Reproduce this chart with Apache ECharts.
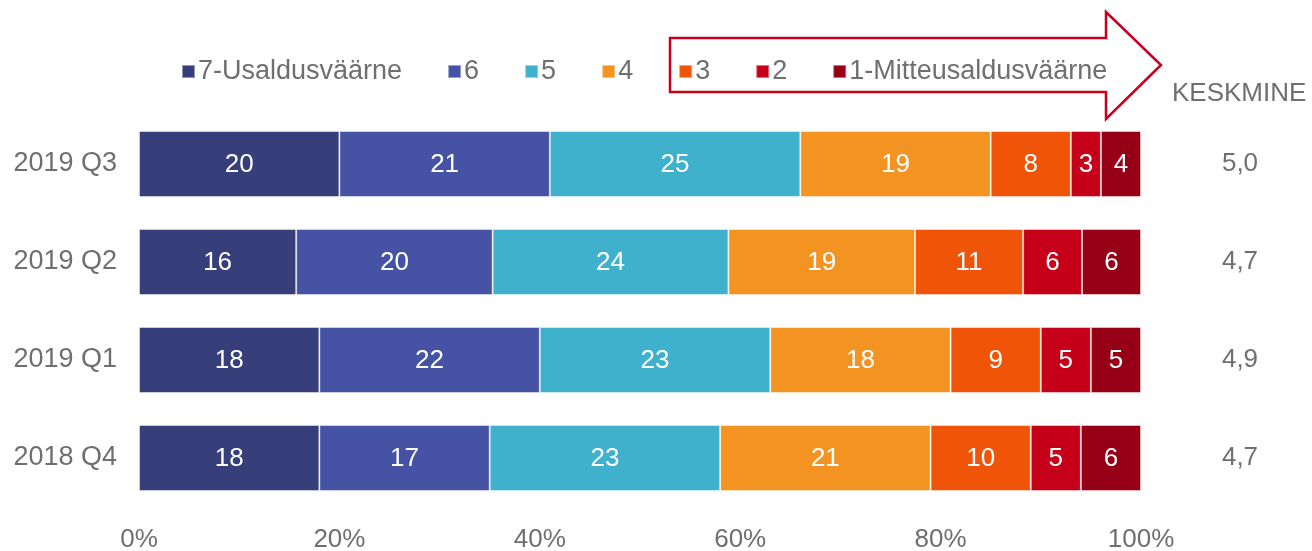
<!DOCTYPE html>
<html>
<head>
<meta charset="utf-8">
<script src="https://cdn.jsdelivr.net/npm/echarts@6/dist/echarts.min.js"></script>
<style>
html,body{margin:0;padding:0;background:#fff;}
#c{width:1312px;height:551px;}
</style>
</head>
<body>
<div id="c"></div>
<script>
const categories = ['2019 Q3', '2019 Q2', '2019 Q1', '2018 Q4'];
const seriesNames = ['7-Usaldusväärne', '6', '5', '4', '3', '2', '1-Mitteusaldusväärne'];
const s7 = [20, 16, 18, 18];
const s6 = [21, 20, 22, 17];
const s5 = [25, 24, 23, 23];
const s4 = [19, 19, 18, 21];
const s3 = [8, 11, 9, 10];
const s2 = [3, 6, 5, 5];
const s1 = [4, 6, 5, 6];
const averages = ['5,0', '4,7', '4,9', '4,7'];
const colors = ['#373f7a', '#4652a3', '#3fb1cc', '#f39422', '#f05409', '#c60019', '#950016'];

const allSeries = [s7, s6, s5, s4, s3, s2, s1];
const totals = categories.map((c, i) => allSeries.reduce((a, s) => a + s[i], 0));

const FONT = '"Liberation Sans", Arial, sans-serif';
const GREY = '#6f6f6f';

const chart = echarts.init(document.getElementById('c'), null, {renderer: 'canvas'});
chart.setOption({
  animation: false,
  textStyle: {fontFamily: FONT},
  grid: {left: 139, right: 171, top: 115, bottom: 44, containLabel: false, outerBoundsMode: 'none'},
  legend: {
    data: seriesNames,
    left: 181, top: 58, padding: 0,
    itemWidth: 13, itemHeight: 13, itemGap: 45,
    icon: 'rect',
    selectedMode: false,
    textStyle: {fontSize: 27, color: GREY, fontFamily: FONT, padding: [0, 0, 0, -2]}
  },
  xAxis: {
    type: 'value', min: 0, max: 100, interval: 20,
    axisLine: {show: false}, axisTick: {show: false}, splitLine: {show: false},
    axisLabel: {formatter: v => v + '%', fontSize: 26, color: GREY, margin: 20, fontFamily: FONT}
  },
  yAxis: [{
    type: 'category', data: categories, inverse: true,
    axisLine: {show: false}, axisTick: {show: false},
    axisLabel: {fontSize: 27, color: GREY, margin: 22, fontFamily: FONT, padding: [3, 0, 0, 0]}
  }, {
    type: 'category', data: averages, inverse: true, position: 'right',
    axisLine: {show: false}, axisTick: {show: false},
    axisLabel: {fontSize: 26, color: GREY, margin: 99, align: 'center', fontFamily: FONT, padding: [9, 0, 0, 0]}
  }],
  series: allSeries.map((s, k) => ({
    name: seriesNames[k],
    type: 'bar',
    stack: 'total',
    barWidth: 66,
    itemStyle: {color: colors[k], borderColor: 'rgba(255,255,255,0.45)', borderWidth: 1},
    label: {
      show: true, position: 'inside', color: '#fff', fontSize: 26, fontFamily: FONT,
      offset: [0, 1],
      formatter: p => String(s[p.dataIndex])
    },
    data: s.map((v, i) => v / totals[i] * 100)
  })),
  graphic: [{
    type: 'polygon',
    shape: {points: [[670, 38], [1106, 38], [1106, 12], [1161, 65], [1106, 119], [1106, 92], [670, 92]]},
    style: {fill: 'none', stroke: '#c8001e', lineWidth: 2.5},
    z: -1
  }, {
    type: 'text',
    left: 1172, top: 81,
    style: {text: 'KESKMINE', font: '26px ' + FONT, fill: GREY}
  }]
});
</script>
</body>
</html>
